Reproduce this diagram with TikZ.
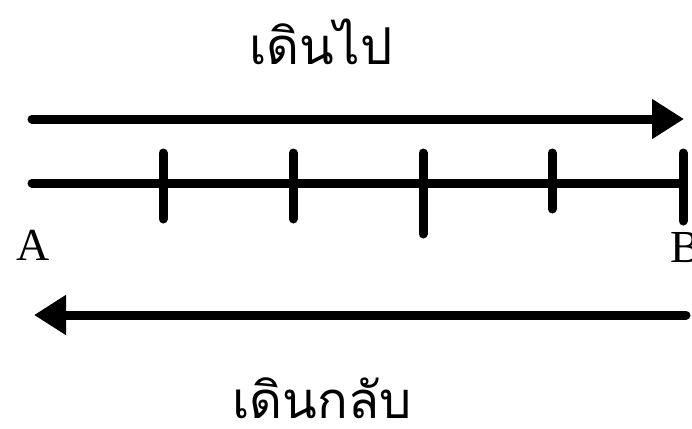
\documentclass[tikz,border=0pt]{standalone}
\usepackage{fontspec}
\setmainfont{Liberation Serif}
\newfontfamily\thaifont[Script=Thai]{Loma}
\usetikzlibrary{arrows.meta}
\begin{document}
\begin{tikzpicture}[x=1bp,y=-1bp,
  thick line/.style={line width=9bp,line cap=round},
  tickmark/.style={line width=9bp,line cap=round},
  bigarrow/.style={thick line,-{Triangle[length=32bp,width=38bp]}},
  thaitext/.style={font=\thaifont\fontsize{51}{55}\selectfont,inner sep=0pt},
  ptlabel/.style={font=\fontsize{46}{50}\selectfont,inner sep=0pt}]
\useasboundingbox (0,0) rectangle (692,428);
% top arrow
\coordinate (t1) at (32,119);
\coordinate (t2) at (684,119);
\draw[bigarrow] (t1) -- (t2);
% number line
\coordinate (lA) at (32,183);
\coordinate (lB) at (683,183);
\draw[thick line] (lA) -- (lB);
\foreach \x/\yb [count=\i] in {163/219,293/219,423/234,552/209,683/221}{
  \coordinate (k\i a) at (\x,153);
  \coordinate (k\i b) at (\x,\yb);
  \draw[tickmark] (k\i a) -- (k\i b);
}
% bottom arrow
\coordinate (b1) at (686,315);
\coordinate (b2) at (34,315);
\draw[bigarrow] (b1) -- (b2);
% labels
\node[ptlabel,anchor=base] (A) at (33,260) {A};
\node[ptlabel,anchor=base] (B) at (686,262) {B};
\node[thaitext,anchor=base] (go) at (321,64) {เดินไป};
\node[thaitext,anchor=base] (back) at (322,418) {เดินกลับ};
\end{tikzpicture}
\end{document}
